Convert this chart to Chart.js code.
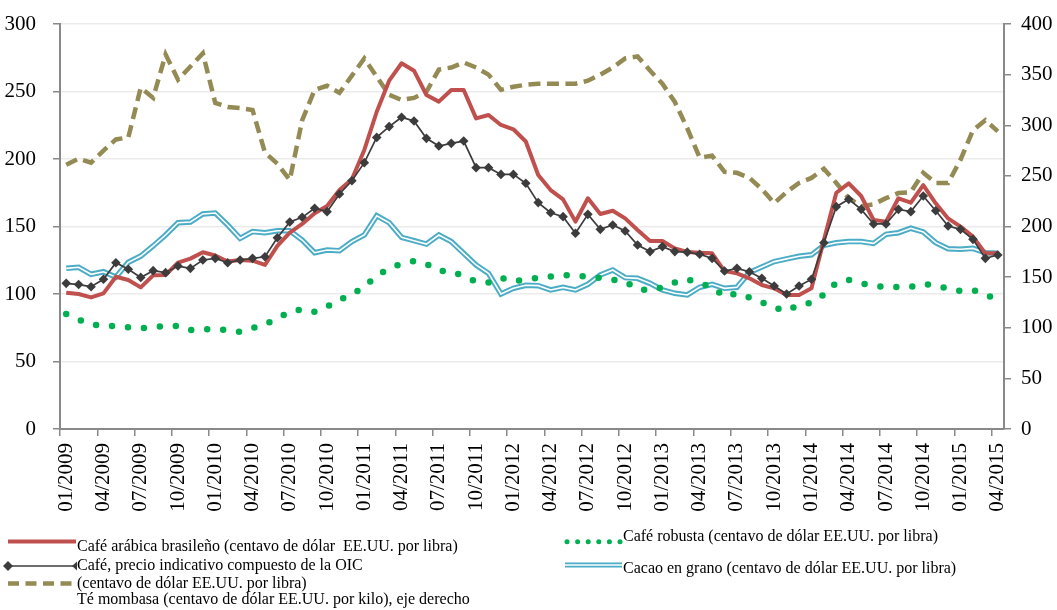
<!DOCTYPE html>
<html>
<head>
<meta charset="utf-8">
<script src="https://cdn.jsdelivr.net/npm/chart.js@4.4.0/dist/chart.umd.min.js"></script>
<style>
  html, body { margin: 0; padding: 0; background: #fff; }
  #wrap { position: relative; width: 1057px; height: 610px; }
  canvas { position: absolute; left: 0; top: 0; }
  .lg { position: absolute; font-family: 'Liberation Serif', 'Times New Roman', serif; font-size: 16px; line-height: 16px; white-space: pre; color: #000; }
</style>
</head>
<body>
<div id="wrap">
  <canvas id="c" width="1057" height="610"></canvas>
  <div class="lg" style="left:77px;top:538px">Café arábica brasileño (centavo de dólar  EE.UU. por libra)</div>
  <div class="lg" style="left:77px;top:556.5px">Café, precio indicativo compuesto de la OIC</div>
  <div class="lg" style="left:77px;top:574.5px">(centavo de dólar EE.UU. por libra)</div>
  <div class="lg" style="left:77px;top:591px">Té mombasa (centavo de dólar EE.UU. por kilo), eje derecho</div>
  <div class="lg" style="left:623px;top:527.6px">Café robusta (centavo de dólar EE.UU. por libra)</div>
  <div class="lg" style="left:623px;top:559.6px">Cacao en grano (centavo de dólar EE.UU. por libra)</div>
</div>
<script>
const categories = [
  "01/2009","02/2009","03/2009","04/2009","05/2009","06/2009","07/2009","08/2009","09/2009","10/2009","11/2009","12/2009",
  "01/2010","02/2010","03/2010","04/2010","05/2010","06/2010","07/2010","08/2010","09/2010","10/2010","11/2010","12/2010",
  "01/2011","02/2011","03/2011","04/2011","05/2011","06/2011","07/2011","08/2011","09/2011","10/2011","11/2011","12/2011",
  "01/2012","02/2012","03/2012","04/2012","05/2012","06/2012","07/2012","08/2012","09/2012","10/2012","11/2012","12/2012",
  "01/2013","02/2013","03/2013","04/2013","05/2013","06/2013","07/2013","08/2013","09/2013","10/2013","11/2013","12/2013",
  "01/2014","02/2014","03/2014","04/2014","05/2014","06/2014","07/2014","08/2014","09/2014","10/2014","11/2014","12/2014",
  "01/2015","02/2015","03/2015","04/2015"
];
const tickLabels = ["01/2009","04/2009","07/2009","10/2009","01/2010","04/2010","07/2010","10/2010",
  "01/2011","04/2011","07/2011","10/2011","01/2012","04/2012","07/2012","10/2012",
  "01/2013","04/2013","07/2013","10/2013","01/2014","04/2014","07/2014","10/2014","01/2015","04/2015"];

const arabica = [101,100,97.5,100.5,112.8,110.4,104.9,113.8,114.1,123.2,126.2,130.9,
  128.5,124,125.2,124.7,121.5,135.6,145.4,151.9,159.8,165.2,177,185,
  206.7,235,258,270.9,265.4,247.4,242.5,251.1,251.1,230.1,232.6,225.2,
  222,213,188.1,177,170.1,153.6,170.9,159.3,161.7,156,147.4,139.3,
  139.3,133.8,131.2,130.6,130.1,117,115.3,111.6,106.7,104.2,99.3,99.3,
  104.2,140,175,182,172.6,154.8,153.6,170.9,167.7,180.7,167.2,156,
  149.9,142.5,130.1,130.1];

const oic = [107.9,107,105.4,110.9,123.2,118.3,112.3,117.3,115.8,120.7,119,125.2,
  126.4,123.2,125.2,126.4,127.6,141.7,153.3,156.8,163.5,161,174.1,183.9,
  197.3,216,224,230.9,228.1,215.3,209.6,211.6,213.3,193.6,193.6,188.6,
  188.6,182,167.7,160.2,157.3,145,159,147.9,151.1,146.7,136.3,131.4,
  135.1,131.4,131,129.4,126.4,117,119,116.5,111.6,105.9,100,105.9,
  110.9,138,164.7,170.1,162.7,151.9,151.9,162.7,161,172.6,161.7,150.4,
  147.9,140.5,126.4,128.9];

const robusta = [85.2,81,77.6,76.3,76.2,75.3,74.6,75.5,76.3,76.2,73.3,73.8,
  74.2,73.1,72,74.8,77.5,82,86.9,88.7,86.8,90.6,95.8,99.6,
  105.5,113.5,119,122.4,124.4,122.2,117,117,113.2,109,108.5,112,
  109.4,110.8,112,113,114.2,113.3,112.9,112,110.6,109.3,103.7,102.7,
  105,108.6,111,107.8,105.5,98,100.5,97.5,94,90,87.5,92,
  93.5,99.5,108.3,110.4,108,106,105.2,105.2,105.2,107.5,106.5,104,
  102.3,103,99.5,96];

const cacao = [119,119.8,114.6,116.5,112.5,123.5,128.1,135.6,143.7,152.8,153.3,159.3,
  160,151.1,141.2,146.2,145.4,146.9,146.9,140,130.6,132.6,132.1,138.8,
  143.7,158,152.8,142,139.5,137,143.7,138.8,130.1,121.5,115.3,100,
  104.2,106.5,106.2,103,104.9,103,107.2,114.1,117.8,112.1,111.6,107.9,
  103,100.5,99.3,105,107.2,104.2,105,116,120,124,126,128,
  129,136,138,138.8,138.8,137.5,144.2,145.4,148.7,146,138,133.5,
  133.1,133.8,130.6,130.1];

const teaMombasa = [261,267,263,275,286,288,337,327,370,345,358,371,
  322,318,317,315,273,262,246,305,335,339,332,349,
  366,348,330,325,327,333,355,357,362,357,350,335,
  338,340,341,341,341,341,344,350,357,366,368,354,
  341,323,297,268,270,254,253,248,237,223,234,243,
  248,257,243,228,220,222,228,233,234,253,243,243,
  266,295,305,294];

const leftTicks = [0,50,100,150,200,250,300];
const rightTicks = [0,50,100,150,200,250,300,350,400];

const FONT = "'Liberation Serif', 'Times New Roman', serif";
const AXIS = '#898989';
const RED = '#c0504d', DARK = '#3c3c3c', GREEN = '#00b050', OLIVE = '#948a54', BLUE = '#4bacc6';

Chart.defaults.font.family = FONT;
Chart.defaults.color = '#000';

const legendSamples = {
  id: 'legendSamples',
  afterDraw(chart) {
    const ctx = chart.ctx;
    ctx.save();
    ctx.strokeStyle = RED; ctx.lineWidth = 4; ctx.lineCap = 'butt';
    ctx.beginPath(); ctx.moveTo(8, 541.5); ctx.lineTo(76, 541.5); ctx.stroke();
    ctx.strokeStyle = DARK; ctx.lineWidth = 1.5;
    ctx.beginPath(); ctx.moveTo(8, 566); ctx.lineTo(76, 566); ctx.stroke();
    ctx.fillStyle = DARK;
    ctx.beginPath(); ctx.moveTo(3, 566); ctx.lineTo(8, 561); ctx.lineTo(13, 566); ctx.lineTo(8, 571); ctx.closePath(); ctx.fill();
    ctx.beginPath(); ctx.moveTo(72, 566); ctx.lineTo(77, 561.5); ctx.lineTo(77, 570.5); ctx.closePath(); ctx.fill();
    ctx.strokeStyle = OLIVE; ctx.lineWidth = 4.5; ctx.setLineDash([11, 6.5]);
    ctx.beginPath(); ctx.moveTo(8, 583.5); ctx.lineTo(76, 583.5); ctx.stroke();
    ctx.strokeStyle = GREEN; ctx.lineWidth = 5; ctx.lineCap = 'round'; ctx.setLineDash([0, 10.6]);
    ctx.beginPath(); ctx.moveTo(567, 541.7); ctx.lineTo(622, 541.7); ctx.stroke();
    ctx.setLineDash([]); ctx.lineCap = 'butt';
    ctx.strokeStyle = BLUE; ctx.lineWidth = 5;
    ctx.beginPath(); ctx.moveTo(565, 565); ctx.lineTo(622, 565); ctx.stroke();
    ctx.strokeStyle = '#fff'; ctx.lineWidth = 1.5;
    ctx.beginPath(); ctx.moveTo(565, 565); ctx.lineTo(622, 565); ctx.stroke();
    ctx.restore();
  }
};

new Chart(document.getElementById('c'), {
  type: 'line',
  data: {
    labels: categories,
    datasets: [
      { label: 'Café robusta (centavo de dólar EE.UU. por libra)', data: robusta, yAxisID: 'y',
        borderColor: GREEN, borderWidth: 6.5, borderDash: [0, 16], borderCapStyle: 'round',
        pointRadius: 0, tension: 0, fill: false },
      { label: 'Café, precio indicativo compuesto de la OIC (centavo de dólar EE.UU. por libra)', data: oic, yAxisID: 'y',
        borderColor: DARK, borderWidth: 1.7, pointStyle: 'rectRot', pointRadius: 4.8,
        pointBackgroundColor: DARK, pointBorderColor: DARK, pointBorderWidth: 0, tension: 0, fill: false },
      { label: 'Café arábica brasileño (centavo de dólar  EE.UU. por libra)', data: arabica, yAxisID: 'y',
        borderColor: RED, borderWidth: 4, pointRadius: 0, tension: 0, fill: false, borderJoinStyle: 'round' },
      { label: 'Té mombasa (centavo de dólar EE.UU. por kilo), eje derecho', data: teaMombasa, yAxisID: 'y2',
        borderColor: OLIVE, borderWidth: 4.5, borderDash: [12, 6.5], pointRadius: 0, tension: 0, fill: false },
      { label: 'cacao-inner', data: cacao, yAxisID: 'y',
        borderColor: '#ffffff', borderWidth: 1.6, pointRadius: 0, tension: 0, fill: false },
      { label: 'Cacao en grano (centavo de dólar EE.UU. por libra)', data: cacao, yAxisID: 'y',
        borderColor: BLUE, borderWidth: 5.5, pointRadius: 0, tension: 0, fill: false }
    ]
  },
  options: {
    responsive: false,
    animation: false,
    devicePixelRatio: 1,
    layout: { padding: { top: 24, bottom: 96, left: 0, right: 0 } },
    plugins: { legend: { display: false }, tooltip: { enabled: false } },
    scales: {
      x: {
        type: 'category',
        offset: true,
        grid: {
          offset: true, drawOnChartArea: false, drawTicks: true, tickLength: 7,
          tickColor: (c) => (c.index % 3 === 0 && c.index < categories.length) ? AXIS : 'rgba(0,0,0,0)',
          lineWidth: 1.5
        },
        border: { display: true, color: AXIS, width: 2 },
        ticks: {
          autoSkip: false, maxRotation: 90, minRotation: 90, padding: 7,
          font: { size: 21, family: FONT }, color: '#000',
          callback: function(v, i) { const l = categories[i]; return tickLabels.includes(l) ? l : ''; }
        },
        afterFit: (s) => { s.height = 85; }
      },
      y: {
        position: 'left', min: 0, max: 300,
        afterBuildTicks: (s) => { s.ticks = leftTicks.map(v => ({ value: v })); },
        grid: { color: '#ebebeb', lineWidth: 1.5, tickColor: AXIS, tickLength: 7, drawTicks: true },
        border: { display: true, color: AXIS, width: 2 },
        ticks: { padding: 17, font: { size: 21, family: FONT }, color: '#000' },
        afterFit: (s) => { s.width = 60; s.paddingTop = 0; s.paddingBottom = 0; }
      },
      y2: {
        position: 'right', min: 0, max: 400,
        afterBuildTicks: (s) => { s.ticks = rightTicks.map(v => ({ value: v })); },
        grid: { drawOnChartArea: false, tickColor: AXIS, tickLength: 7, lineWidth: 1.5 },
        border: { display: true, color: AXIS, width: 2 },
        ticks: { padding: 10, font: { size: 21, family: FONT }, color: '#000' },
        afterFit: (s) => { s.width = 53; s.paddingTop = 0; s.paddingBottom = 0; }
      }
    }
  },
  plugins: [legendSamples]
});
</script>
</body>
</html>
